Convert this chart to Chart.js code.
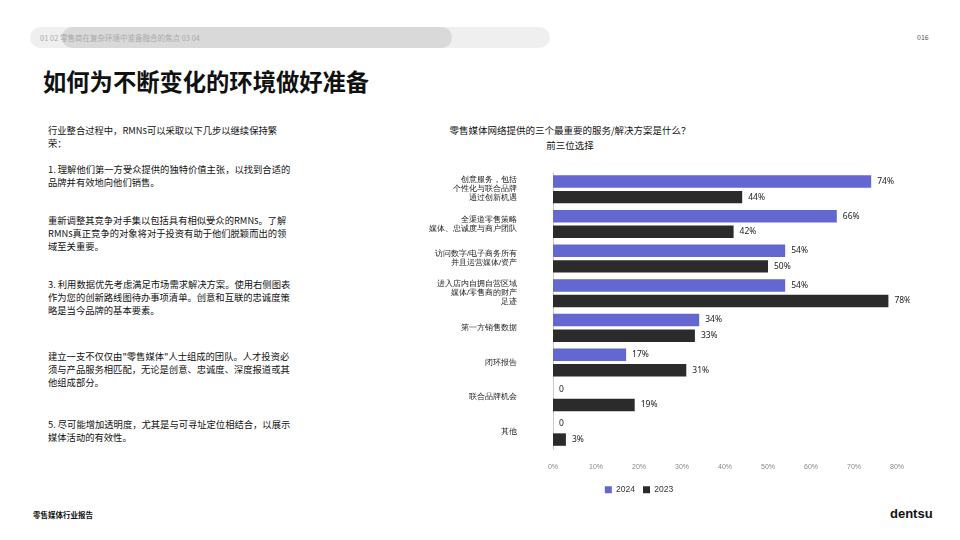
<!DOCTYPE html>
<html><head><meta charset="utf-8">
<script src="https://cdn.jsdelivr.net/npm/chart.js@4"></script>
<style>
body{margin:0;width:960px;height:540px;background:#fff;font-family:"Noto Sans CJK SC","Noto Sans",sans-serif;position:relative;overflow:hidden;color:#111}
.nav{position:absolute;left:30px;top:27px;width:520px;height:21px;border-radius:11px;background:#efefef}
.nav2{position:absolute;left:62px;top:27px;width:390px;height:21px;border-radius:11px;background:#d9d9d9}
.navt{position:absolute;left:40px;top:32px;font-size:7.5px;color:#aaa}
.pg{position:absolute;left:917px;top:32px;font-size:7px;color:#555}
h1{position:absolute;left:43px;top:64px;margin:0;font-size:23.3px;font-weight:700}
.t{position:absolute;left:48px;font-size:9.3px;line-height:13px;width:243px;word-break:break-all}
.ct{position:absolute;left:380px;width:380px;text-align:center;font-size:9.5px}
.foot{position:absolute;left:33px;top:509px;font-size:7.5px;font-weight:700}
.logo{position:absolute;left:890px;top:506px;font-size:13px;font-weight:700;font-family:"Liberation Sans",sans-serif}
#w{position:absolute;left:380px;top:172px;width:530px;height:332px}
</style></head><body>
<div class="nav"></div><div class="nav2"></div>
<div class="navt">01 02 零售商在复杂环境中准备融合的焦点 03 04</div>
<div class="pg">016</div>
<h1>如何为不断变化的环境做好准备</h1>
<div class="t" style="top:124px">行业整合过程中，RMNs可以采取以下几步以继续保持繁荣：</div>
<div class="t" style="top:163px">1. 理解他们第一方受众提供的独特价值主张，以找到合适的品牌并有效地向他们销售。</div>
<div class="t" style="top:214px">重新调整其竞争对手集以包括具有相似受众的RMNs。了解RMNs真正竞争的对象将对于投资有助于他们脱颖而出的领域至关重要。</div>
<div class="t" style="top:278px">3. 利用数据优先考虑满足市场需求解决方案。使用右侧图表作为您的创新路线图待办事项清单。创意和互联的忠诚度策略是当今品牌的基本要素。</div>
<div class="t" style="top:350px">建立一支不仅仅由"零售媒体"人士组成的团队。人才投资必须与产品服务相匹配，无论是创意、忠诚度、深度报道或其他组成部分。</div>
<div class="t" style="top:418px">5. 尽可能增加透明度，尤其是与可寻址定位相结合，以展示媒体活动的有效性。</div>
<div class="ct" style="top:123px">零售媒体网络提供的三个最重要的服务/解决方案是什么？</div>
<div class="ct" style="top:138px;left:470px;width:200px">前三位选择</div>
<div id="w"><canvas id="c"></canvas></div>
<div class="foot">零售媒体行业报告</div>
<div class="logo">dentsu</div>
<script>
const categories=[["创意服务，包括","个性化与联合品牌","通过创新机遇"],["全渠道零售策略","媒体、忠诚度与商户团队"],["访问数字/电子商务所有","并且运营媒体/资产"],["进入店内自拥自营区域","媒体/零售商的财产","足迹"],"第一方销售数据","闭环报告","联合品牌机会","其他"];
const values2024=[74,66,54,54,34,17,0,0];
const values2023=[44,42,50,78,33,31,19,3];
const seriesNames=["2024","2023"];
const xTicks=[0,10,20,30,40,50,60,70,80];
const lbl={id:'lbl',afterDatasetsDraw(ch){const x=ch.ctx;x.save();x.font='8.5px "Noto Sans",sans-serif';x.fillStyle='#222';x.textBaseline='middle';
ch.data.datasets.forEach((d,i)=>{ch.getDatasetMeta(i).data.forEach((b,j)=>{const v=d.data[j];x.fillText(v===0?'0':v+'%',b.x+6,b.y);});});x.restore();}};
new Chart(document.getElementById('c'),{type:'bar',
data:{labels:categories,datasets:[
{label:seriesNames[0],data:values2024,backgroundColor:'#6268d0',barPercentage:0.8,categoryPercentage:0.9},
{label:seriesNames[1],data:values2023,backgroundColor:'#2b2b2b',barPercentage:0.8,categoryPercentage:0.9}]},
options:{indexAxis:'y',responsive:true,maintainAspectRatio:false,animation:false,
layout:{padding:{right:12}},
plugins:{legend:{position:'bottom',labels:{boxWidth:7,boxHeight:7,font:{size:8.5},color:'#333',padding:8}},tooltip:{enabled:false}},
scales:{x:{min:0,max:80,afterBuildTicks:a=>{a.ticks=xTicks.map(v=>({value:v}));},ticks:{callback:v=>v+'%',font:{size:7},color:'#888',padding:6},grid:{display:false},border:{display:false}},
y:{afterFit:s=>{s.width=173;s.paddingTop=0;s.paddingBottom=0;},ticks:{font:{size:7.5},color:'#222',autoSkip:false,padding:28},grid:{display:false},border:{color:'#ccc'}}}},
plugins:[lbl]});
</script></body></html>
